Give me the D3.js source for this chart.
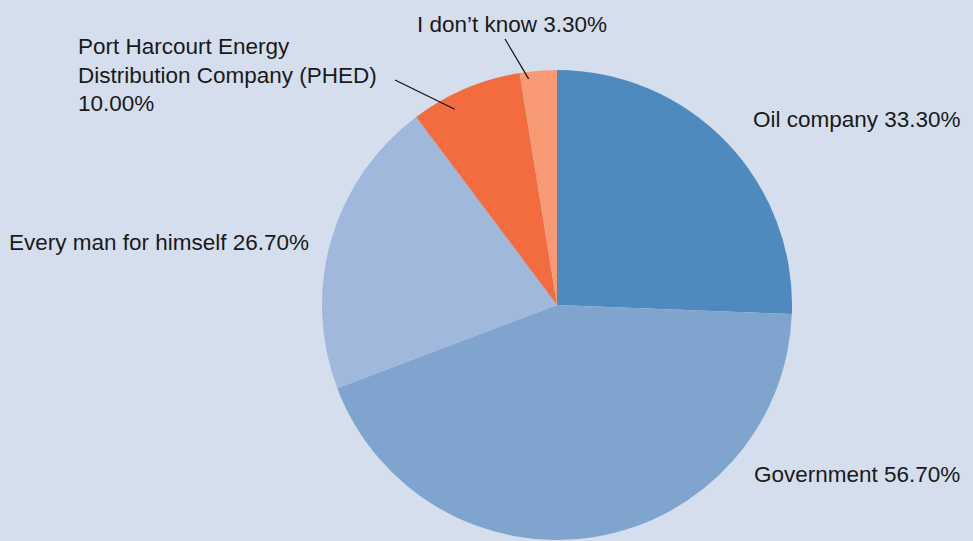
<!DOCTYPE html>
<html>
<head>
<meta charset="utf-8">
<script src="https://cdn.jsdelivr.net/npm/d3@7/dist/d3.min.js"></script>
<style>
  html, body { margin: 0; padding: 0; background: #d4deed; }
  svg { display: block; }
  text { font-family: "Liberation Sans", Arial, Helvetica, sans-serif; fill: #1a1a1a; }
</style>
</head>
<body>
<svg id="chart" width="973" height="541"></svg>
<script>
// ---- data ----
const categories = ["Oil company", "Government", "Every man for himself", "Port Harcourt Energy Distribution Company (PHED)", "I don’t know"];
const values = [33.3, 56.7, 26.7, 10.0, 3.3];
const valueLabels = ["33.30%", "56.70%", "26.70%", "10.00%", "3.30%"];
const colors = ["#4e8abe", "#7fa5cf", "#9fb8dc", "#f26c40", "#f89a74"];

// ---- layout (label placement, not data) ----
const W = 973, H = 541;
const cx = 557, cy = 305, R = 235;
const labelLayout = [
  { x: 753, y: 127, lines: ["Oil company 33.30%"], leader: null },
  { x: 754, y: 482, lines: ["Government 56.70%"], leader: null },
  { x: 9,   y: 250, lines: ["Every man for himself 26.70%"], leader: null },
  { x: 78,  y: 54,  lines: ["Port Harcourt Energy", "Distribution Company (PHED)", "10.00%"], leader: { x: 395, y: 80, r: 0.94, da: -0.08 } },
  { x: 417, y: 32,  lines: ["I don’t know 3.30%"], leader: { x: 505, y: 39, r: 0.97, da: -0.045 } }
];

const svg = d3.select("#chart");
svg.append("rect").attr("width", W).attr("height", H).attr("fill", "#d4deed");

const pie = d3.pie().sort(null).value(d => d.value);
const arcs = pie(categories.map((c, i) => ({ name: c, value: values[i], color: colors[i] })));
const arc = d3.arc().innerRadius(0).outerRadius(R);

const g = svg.append("g").attr("transform", `translate(${cx},${cy})`);
g.selectAll("path.slice")
  .data(arcs)
  .join("path")
  .attr("class", "slice")
  .attr("d", arc)
  .attr("fill", d => d.data.color);

// leaders
arcs.forEach((a, i) => {
  const L = labelLayout[i];
  if (!L.leader) return;
  const mid = (a.startAngle + a.endAngle) / 2 + L.leader.da;
  const rr = R * L.leader.r;
  const x1 = cx + rr * Math.sin(mid);
  const y1 = cy - rr * Math.cos(mid);
  svg.append("line")
    .attr("x1", x1).attr("y1", y1)
    .attr("x2", L.leader.x).attr("y2", L.leader.y)
    .attr("stroke", "#111").attr("stroke-width", 1.2);
});

// labels
arcs.forEach((a, i) => {
  const L = labelLayout[i];
  const t = svg.append("text")
    .attr("x", L.x).attr("y", L.y)
    .attr("font-size", "22.5px");
  L.lines.forEach((ln, j) => {
    t.append("tspan").attr("x", L.x).attr("dy", j === 0 ? 0 : 28.7).text(ln);
  });
});
</script>
</body>
</html>
